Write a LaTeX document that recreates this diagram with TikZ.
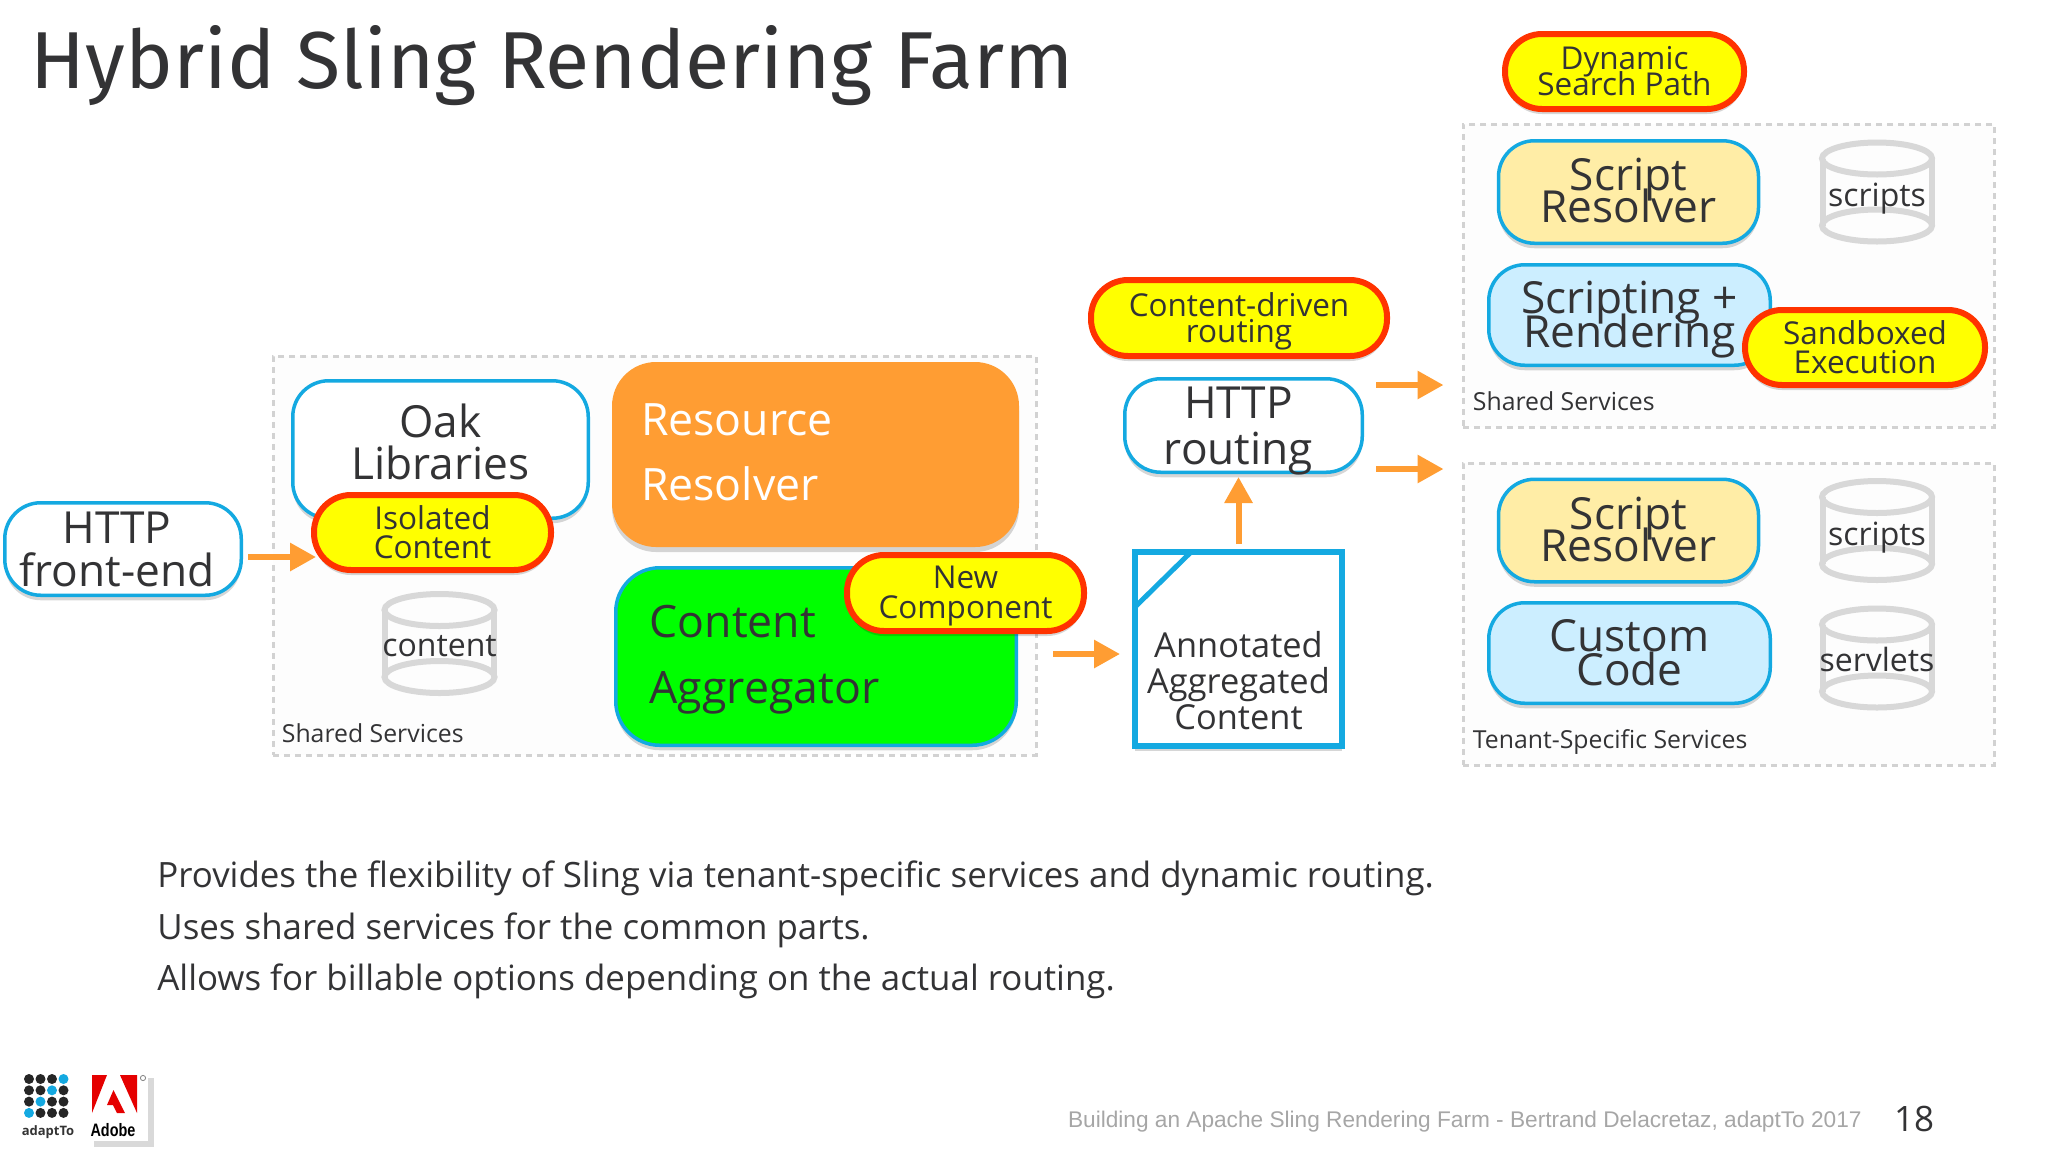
\documentclass[tikz,border=0pt]{standalone}
\usepackage{fontspec}
\usepackage{xcolor}
\usepackage{tikz}
\usetikzlibrary{positioning,arrows.meta,shadows,calc}
\setmainfont{Open Sans}
\newfontfamily\titlefont{Fira Sans}
\newfontfamily\footfont{Liberation Sans}
\normallineskiplimit=-100pt
\lineskiplimit=-100pt
\definecolor{ink}{HTML}{333335}
\definecolor{skyline}{HTML}{14A9E1}
\definecolor{flow}{HTML}{FF9D33}
\definecolor{alertred}{HTML}{FF3300}
\definecolor{pillfill}{HTML}{FFFF00}
\definecolor{cream}{HTML}{FFEDA6}
\definecolor{icewash}{HTML}{CCEEFF}
\definecolor{drumgray}{HTML}{D8D8D8}
\definecolor{dashgray}{HTML}{D2D2D2}
\tikzset{
  softshade/.style={drop shadow={shadow xshift=0pt,shadow yshift=-2.5pt,fill=black,opacity=.16}},
  bigtext/.style={font=\fontsize{22.1}{#1}\selectfont},
  wiretext/.style={font=\fontsize{22.3}{#1}\selectfont},
  pilltext/.style={font=\fontsize{15.75}{#1}\selectfont},
  roundbox/.style={draw=skyline,line width=1.75pt,rounded corners=18pt,inner sep=0pt,align=center,text=ink,softshade},
  pillbox/.style={draw=alertred,fill=pillfill,line width=3pt,rounded corners=18.5pt,inner sep=0pt,align=center,text=ink,softshade},
  zonebox/.style={draw=dashgray,fill=black!.7,line width=1.5pt,dash pattern=on 3pt off 2.5pt,inner sep=0pt},
  zonelabel/.style={anchor=west,inner sep=0pt,text=ink,font=\fontsize{12.4}{14}\selectfont},
  flowarrow/.style={-{Triangle[length=13pt,width=13.5pt]},line width=3pt,draw=flow},
  drumedge/.style={draw=drumgray,line width=3pt},
  drumnode/.style={minimum width=58.5pt,minimum height=52.5pt,inner sep=0pt,text=ink,font=\fontsize{16}{18}\selectfont,text depth=0pt,
    path picture={
      \draw[drumedge] ([yshift=-9.5pt]path picture bounding box.north) ellipse (27.5pt and 8pt);
      \draw[drumedge] ([yshift=9.5pt]path picture bounding box.south) ellipse (27.5pt and 8pt);
      \draw[drumedge] ([xshift=2pt,yshift=-9.5pt]path picture bounding box.north west) -- ([xshift=2pt,yshift=9.5pt]path picture bounding box.south west);
      \draw[drumedge] ([xshift=-2pt,yshift=-9.5pt]path picture bounding box.north east) -- ([xshift=-2pt,yshift=9.5pt]path picture bounding box.south east);
    }},
}
\begin{document}
\begin{tikzpicture}[x=0.5pt,y=-0.5pt,on grid]
    \useasboundingbox (0,0) rectangle (2048,1152);

    \node[anchor=west,inner sep=0pt,text=ink,font=\titlefont\fontsize{40.4}{46}\selectfont] (title) at (30,66) {Hybrid Sling Rendering Farm};

    % left part
    \node[roundbox,fill=white,bigtext=21.5,minimum width=118.25pt,minimum height=46.25pt] (front) at (123,549) {HTTP\hspace*{6pt}\\front-end\hspace*{6pt}};
    \node[zonebox,minimum width=381.5pt,minimum height=199.5pt,below right=3.25pt and 265.75pt of front] (zoneA) {};
    \node[zonelabel] (labA) at ([xshift=5pt,yshift=11.5pt]zoneA.south west) {Shared Services};
    \node[roundbox,fill=white,bigtext=21,minimum width=147.75pt,minimum height=68.75pt,above left=53pt and 107pt of zoneA] (oak) {Oak\\Libraries\\[-13pt]\mbox{}};
    \node[pillbox,pilltext=14.5,minimum width=118.5pt,minimum height=37.5pt,below left=41.5pt and 4pt of oak] (iso) {Isolated\\Content};
    \node[drumnode,text height=13pt,below right=55.5pt and 3.5pt of iso] (content) {content};
    \node[fill=flow,text=white,rounded corners=22pt,inner sep=0pt,inner xsep=14.5pt,text width=174.5pt,align=left,wiretext=32.5,minimum height=92.5pt,softshade,below right=2.5pt and 187.5pt of oak] (res) {Resource\\Resolver\\[-30.5pt]\mbox{}};
    \node[draw=skyline,fill=green,text=ink,line width=1.75pt,rounded corners=22pt,inner sep=0pt,inner xsep=17pt,text width=166.25pt,align=left,wiretext=33,minimum height=88.75pt,softshade,below right=101pt and .25pt of res] (agg) {\rule{0pt}{19.5pt}Content\\Aggregator};
    \node[pillbox,pilltext=15,minimum width=118.5pt,minimum height=38pt,above right=31.75pt and 74.75pt of agg] (newc) {\rule{0pt}{14pt}New\\Component};

    % middle part
    \node[draw=skyline,fill=white,line width=3pt,inner sep=0pt,align=center,text=ink,font=\fontsize{17.2}{18}\selectfont,minimum width=103.5pt,minimum height=97pt,softshade,above right=3.75pt and 211.25pt of agg] (ann) {\mbox{}\\[27pt]Annotated\\Aggregated\\Content};
    \draw[draw=skyline,line width=2.5pt] ([xshift=29.5pt,yshift=-1.5pt]ann.north west) -- ([xshift=1.5pt,yshift=-29pt]ann.north west);
    \node[roundbox,fill=white,font=\fontsize{22.1}{23}\selectfont,text depth=0pt,minimum width=118.75pt,minimum height=46.75pt,above right=111.75pt and 2.5pt of ann] (route) {HTTP\hspace*{5pt}\\routing\hspace*{5pt}};
    \node[pillbox,pilltext=13.25,minimum width=148pt,minimum height=38pt,above left=53.75pt and 2.25pt of route] (driven) {\rule{0pt}{15.3pt}Content-driven\\routing};

    % right part
    \node[zonebox,minimum width=265.5pt,minimum height=151.5pt,above right=75pt and 242.5pt of route] (zoneB) {};
    \node[zonelabel] (labB) at ([xshift=5.5pt,yshift=13.5pt]zoneB.south west) {Shared Services};
    \node[pillbox,pilltext=13,minimum width=119.5pt,minimum height=37.5pt,above left=102pt and 52pt of zoneB] (dyn) {Dynamic\\Search Path};
    \node[roundbox,fill=cream,bigtext=16,minimum width=130pt,minimum height=51.25pt,above left=41.75pt and 50pt of zoneB] (sr1) {Script\\Resolver\\[-14pt]\mbox{}};
    \node[drumnode,text height=14.8pt,right=124.25pt of sr1] (scripts1) {scripts};
    \node[roundbox,fill=icewash,bigtext=17,minimum width=140.75pt,minimum height=50.25pt,below right=61.5pt and .5pt of sr1] (sc) {\rule{0pt}{20.5pt}Scripting +\\Rendering};
    \node[pillbox,pilltext=14.5,minimum width=120pt,minimum height=37.5pt,below right=16.25pt and 117.75pt of sc] (sand) {Sandboxed\\Execution};

    \node[zonebox,minimum width=265.5pt,minimum height=151pt,below=169.25pt of zoneB] (zoneC) {};
    \node[zonelabel] (labC) at ([xshift=5.5pt,yshift=12.5pt]zoneC.south west) {Tenant-Specific Services};
    \node[roundbox,fill=cream,bigtext=16,minimum width=130pt,minimum height=51.25pt,below=169.25pt of sr1] (sr2) {Script\\Resolver\\[-15pt]\mbox{}};
    \node[drumnode,text height=14.8pt,right=124.25pt of sr2] (scripts2) {scripts};
    \node[roundbox,fill=icewash,bigtext=17,minimum width=140.75pt,minimum height=50.25pt,below=169pt of sc] (cc) {Custom\\Code};
    \node[drumnode,text height=13.5pt,below=63.75pt of scripts2] (servlets) {servlets};

    \draw[flowarrow] ([xshift=2.5pt,yshift=-4pt]front.east) -- ([xshift=2.5pt,yshift=-12.25pt]iso.west);
    \draw[flowarrow] ([xshift=17.5pt,yshift=1.25pt]agg.east) -- ([xshift=-6pt,yshift=-2.5pt]ann.west);
    \draw[flowarrow,shorten >=1.5pt,shorten <=2.5pt] (ann.north) -- (ann.north |- route.south);
    \draw[flowarrow] ([xshift=6pt,yshift=20.25pt]route.east) -- ([xshift=-9pt,yshift=21.75pt]zoneB.south west);
    \draw[flowarrow] ([xshift=6pt,yshift=-21.75pt]route.east) -- ([xshift=-9pt,yshift=-3.75pt]zoneC.north west);

    % text at the bottom
    \node[anchor=west,inner sep=0pt,align=left,text=ink,font=\fontsize{17.43}{25.75}\selectfont] (notes) at (157,930) {Provides the flexibility of Sling via tenant-specific services and dynamic routing.\\Uses shared services for the common parts.\\Allows for billable options depending on the actual routing.};
    \node[anchor=east,inner sep=0pt,text=black!35,font=\footfont\fontsize{11.33}{13}\selectfont] (foot) at (1862,1122) {Building an Apache Sling Rendering Farm - Bertrand Delacretaz, adaptTo 2017};
    \node[inner sep=0pt,text=ink,font=\fontsize{17.5}{20}\selectfont] (pagenum) at (1914,1119) {18};

    % logos
    \foreach \r in {0,...,3}
        \foreach \c in {0,...,3} {
            \ifnum\numexpr\r+\c\relax=3
                \fill[skyline] (29+11.5*\c,1079+11.3*\r) circle (2.5pt);
            \else
                \fill[black!85] (29+11.5*\c,1079+11.3*\r) circle (2.5pt);
            \fi
        }
    \node[inner sep=0pt,text=black!80,font=\bfseries\fontsize{6.5}{8}\selectfont] (adapt) at (48,1132) {adaptTo};
    \node[fill=white,minimum width=30pt,minimum height=34.5pt,inner sep=0pt,drop shadow={shadow xshift=3pt,shadow yshift=-3pt,fill=black,opacity=.15}] (adobe) at (118,1106.5) {};
    \fill[red!90!black] (92,1075) -- (107,1075) -- (92,1113) -- cycle;
    \fill[red!90!black] (120,1075) -- (137,1075) -- (137,1113) -- cycle;
    \fill[red!90!black] (113.5,1090) -- (125,1113) -- (117,1113) -- (113,1105) -- (107,1105) -- cycle;
    \node[inner sep=0pt,text=black,font=\footfont\bfseries\fontsize{9}{10}\selectfont] (adobetext) at (113,1130) {\scalebox{.8}[1]{Adobe}};
    \draw[black!50,line width=.4pt] (143,1078) circle (1.3pt);
\end{tikzpicture}
\end{document}
